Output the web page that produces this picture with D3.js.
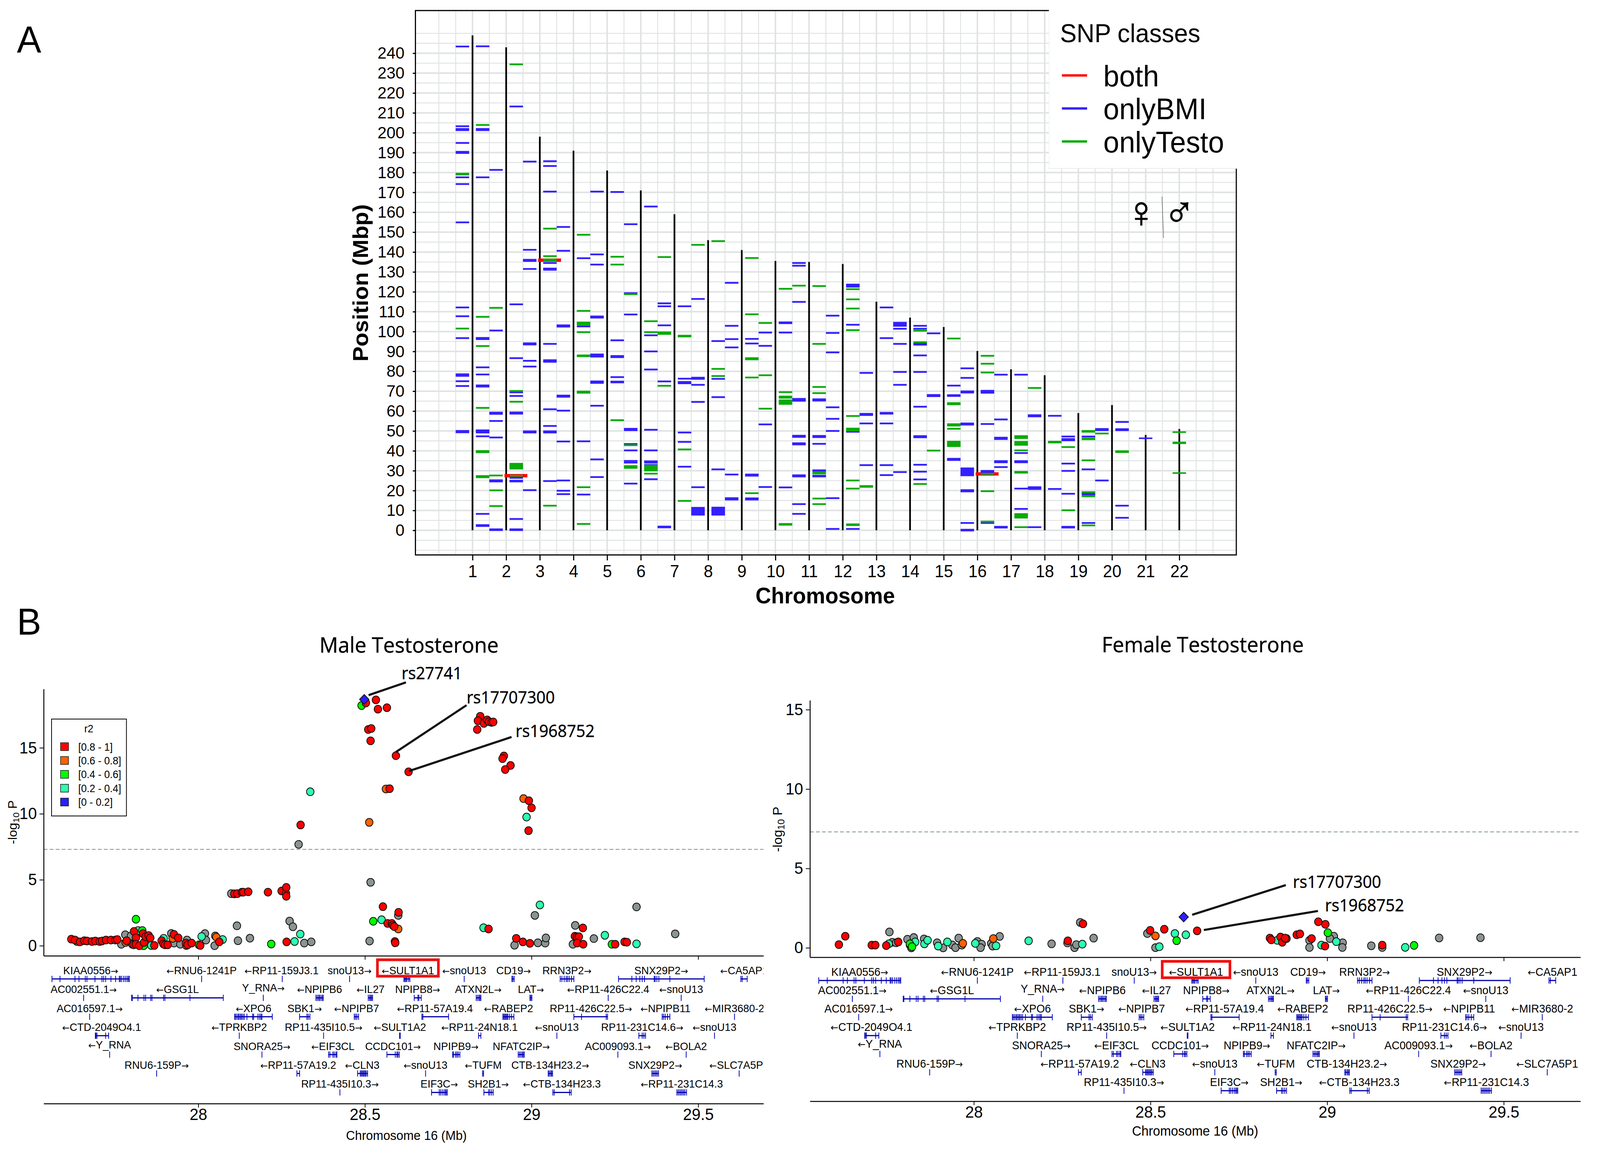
<!DOCTYPE html>
<html><head><meta charset="utf-8">
<script src="https://d3js.org/d3.v7.min.js"></script>
<style>
html,body{margin:0;padding:0;background:#fff;overflow:hidden}
svg{display:block;width:100vw;height:100vh}
text{font-family:"Liberation Sans",Arial,sans-serif;fill:#000}
.myriad{font-family:"Open Sans",sans-serif;stroke:#000;stroke-width:0.6}
</style></head><body><svg id="chart" viewBox="0 0 4252 2953" preserveAspectRatio="none"></svg>
<script>
/* ---------- Panel A data (Mbp), index 0 = chromosome 1 ---------- */
const chromosomes = d3.range(1,23);
const chrLength = [249,243,198,191,181,171,159,146,141,135.5,135,134,115,107,102.3,90.2,81,78,59,63,48,51];
const yTicksA = d3.range(0,250,10);
const bmiFemale = [
 [243.4,203.3,201.9,201.3,194.9,190.4,189.8,177.6,174.2,154.9,112.1,107.7,96.7,78.5,77.7,75,72.6,50,49.3],
 [181.3,100.5,59.2,58.6,55,46.7,25.2,24.6,0.5,0.1],
 [185.5,141.1,136.1,135.5,131.5,94.1,93.5,85.3,82.4,49.8,49.2,20.2],
 [152.6,140.6,103.1,102.5,67.8,67.2,60.2,44.7,25.1,19.9,18.2],
 [170.4,138.8,133.7,107.6,107,88.5,88,87.4,74.9,74.2,62.7,35.7,26.8],
 [154,119.3,108.6,51.1,50.4,43.4,40.2,34.9,34.1,23.5],
 [114.2,112.7,103.1,74.9,1.9,1.5],
 [116.4,76.8,76.2,73.2,64.6,21.7,11.3,10.7,10.1,9.5,8.9,8.3,7.9],
 [124.5,102.9,96.2,92,28.1,16.2,15.5],
 [99.5,92.8,53.3,21.8],
 [134.5,133.1,114.9,66.1,65.7,65.2,47.6,47,43.8,43.2,27.7,27.1,13.2,8.3],
 [108,99.3,89.5,61.9,56.1,50,16.2,0.7],
 [79.2,58.6,58,53.8,32.8],
 [104.4,103.9,103.4,102.9,101.4,93.8,79.7,73.2,29.3],
 [99.1,68.1,67.5],
 [81.5,76.7,69.9,69.3,53.8,53.2,31.2,30.6,30,29.4,28.8,28.2,27.7,20.2,19.6,3.7,0.3,-0.1],
 [78.3,55.8,46.6,45.9,34.8,34.2,31.8,1.8,1.4],
 [57.9,57.3,21.7,20.8,1.6],
 [47.2,45.9,45.3,33.6,29.9,18.4,1.8,1.4],
 [51,50.4,25.1],[],[]];
const bmiMale = [
 [243.5,201.9,201.3,177.6,96.8,96.2,82,78.4,72.9,72.3,50.3,49.8,49.2,47.3,8.3,2.6,2.2],
 [213.2,113.7,86.6,69.4,67.6,59.3,58.7,26.4,25,24.6,5.7,0.5,0.1],
 [185.7,183.3,170.4,134.5,131.7,131.1,93.8,85.6,84.8,60.9,52.5,49.8,49.2,24.8],
 [136.9,102.6,44.8,18],
 [170.2,95.6,87.7,87.1,77.1,74.8,74.4],
 [162.9,98.1,90,80.9,50.6,40.2,34.7,34.1,32.9,25.7],
 [112.7,76.3,74.6,74,49.2,44.5,32],
 [95.2,76.2,67,30.7,11.4,10.8,10.2,9.6,9,8.4,7.9],
 [96.3,94,28.1,27.5,16.1,15.5],
 [104.6,104.2,99.5,21.6],
 [65.9,65.3,47.5,46.9,43.5,30.2,29.8,27.5,27.1],
 [123.6,123,122.6,103.4,49.6,0.7],
 [112.1,96.7,59.1,58.7,53.8,32.8,27.8],
 [102.9,101.4,94,93.4,88,79.7,62.2,47.4,46.8,33,29.5,25.6],
 [72.8,68,67.6,36,35.4],
 [70.2,69.6,69.2,53.5,29.9,29.3,3.7],
 [78.3,38.9,34.8,34.2,21,10.8],
 [57.6,20.8],
 [47.2,30.7,18.6,18,3.7],
 [54.5,50.9,50.4,12.4,6.3],[],[]];
const testoFemale = [
 [179.4,179,101.5],[111.9,27.6,20.1,12.2],[],[],[],[118.8,42.8,32.3,31.4],[137.5,99.6,99.2,98.8,72.7],
 [143.6],[],[104.3,78,61.2],[123.1],[],[22.3,21.9],[],[40.1],[],[],[71.6],[41.9,10.1],[48.7],[],[]];
const testoMale = [
 [203.9,107.4,92.7,61.6,39.9,39.3,27.3,26.7],
 [234.4,70.1,64.7,33.5,32.9,32.3,31.7,31.1,27.5],
 [151.8,137.9,136.2,135.6,12.4],
 [148.7,110.4,104.5,104,103.5,99.7,88,87.6,69.8,69.2,21.7,3.2],
 [137.6,133.7,55.4],
 [105.2,99.7,32.5,31.9,31.3,30.7,30.1,28.5],
 [97.9,97.5,40.7,14.8],
 [145.5,81.2,77.6],
 [137,108.7,86.6,86,76.9,18.7],
 [121.5,69.5,67.3,66.7,65.4,64.8,64.2,63.6,3.2,2.8],
 [122.9,93.8,72.1,69,29.2,28.6,16,13.2],
 [121.3,116.2,111.6,100.7,57.5,51.2,50.6,50.2,25.1,21,3,2.6],
 [],
 [100.8,100.4,94.6,23.3],
 [96.5,64,63.4,53.4,52.7,51.1,44.6,44,43.4,42.8,42.4],
 [87.8,83.8,79.4,28.4,19.7,4.4],
 [47.4,46.9,46.4,44.5,44,43.5,43,40.2,29.4,29,8.2,7.6,7,6.4,1.6],
 [44.6,44.2],
 [50,49.6,46.2,45.8,35.2,19.2,17.1,2.5],
 [39.8,39.4],[],[]];
const bmiCentre = [[21,46.3]];
const testoCentre = [[22,49.4],[22,44.2],[22,43.8],[22,28.8]];
const bothClass = [[2,27.5],[3,135.9],[16,28.4]];
const snpClasses = ["both","onlyBMI","onlyTesto"];
const snpColours = ["#ff0000","#3320ff","#0aaa0a"];

/* ---------- Panel B data: [position Mb, -log10 P] ---------- */
const maleGrey = [[27.636,.32],[27.769,.11],[27.781,.83],[27.798,.74],[27.802,.11],[27.84,.29],[27.851,.47],[27.919,.93],[27.927,.2],[27.946,.11],[27.966,.43],[28.02,.92],[28.023,.43],[28.049,0],[28.051,.74],[28.099,3.95],[28.116,1.51],[28.119,.38],[28.155,.57],[28.274,1.87],[28.284,1.44],[28.318,.2],[28.339,.29],[28.301,7.68],[28.517,4.81],[28.514,.36],[28.6,2.3],[28.949,.04],[29.019,.22],[29.041,.2],[29.043,.59],[29.01,2.3],[29.131,1.54],[29.124,.11],[29.187,.54],[29.315,2.94],[29.431,.9]];
const maleCyan = [[27.819,1.15],[27.859,.02],[27.896,.56],[28.01,.7],[28.073,.47],[28.289,.32],[28.306,.88],[28.336,11.67],[28.55,1.97],[28.856,1.36],[28.985,9.75],[29.025,3.09],[29.22,.79],[29.315,.14]];
const maleGreen = [[27.813,2.01],[27.836,0],[27.832,1.15],[28.002,.07],[28.219,.13],[28.49,18.2],[28.525,1.85],[29.241,.11]];
const maleOrange = [[27.782,.25],[27.923,.56],[27.964,.02],[28.054,.65],[28.513,9.35],[28.563,11.88],[28.976,11.15],[28.6,1.27]];
const maleRed = [[27.619,.5],[27.63,.43],[27.645,.29],[27.658,.38],[27.666,.36],[27.681,.32],[27.691,.36],[27.704,.32],[27.711,.36],[27.723,.43],[27.738,.43],[27.751,.43],[27.757,.47],[27.785,.38],[27.807,1.08],[27.813,.61],[27.806,.07],[27.813,.11],[27.823,0],[27.834,.92],[27.837,.25],[27.842,.68],[27.851,.77],[27.856,.59],[27.868,.02],[27.89,.38],[27.895,.14],[27.9,.07],[27.908,.07],[27.927,.86],[27.94,.59],[27.963,.2],[27.968,.07],[27.98,.2],[28.006,.02],[28.063,.29],[28.108,3.93],[28.117,3.95],[28.131,4.06],[28.135,4.06],[28.15,4.09],[28.209,4.06],[28.25,4.15],[28.263,3.97],[28.264,4.42],[28.264,3.75],[28.265,.29],[28.307,9.15],[28.503,18.4],[28.533,18.63],[28.539,17.93],[28.566,18.04],[28.51,16.39],[28.519,16.46],[28.517,15.53],[28.554,2.96],[28.568,1.69],[28.581,1.69],[28.584,1.54],[28.588,1.45],[28.59,.32],[28.593,14.4],[28.631,13.18],[28.574,11.9],[28.846,17.39],[28.839,17.05],[28.857,16.85],[28.867,17.11],[28.872,16.98],[28.88,16.93],[28.885,16.96],[28.837,16.39],[28.917,14.38],[28.913,14.18],[28.937,13.66],[28.921,13.35],[28.992,10.99],[29,10.45],[28.991,8.72],[28.601,2.53],[28.591,.22],[28.871,1.27],[28.954,.56],[28.974,.29],[28.995,.18],[29.154,1.35],[29.13,.72],[29.136,.68],[29.142,.68],[29.137,.2],[29.155,.11],[29.251,.11],[29.279,.29],[29.286,.27]];
const maleLead = [[28.498,18.67]];
const femaleGrey = [[27.761,1],[27.769,.35],[27.78,.32],[27.812,.54],[27.83,.65],[27.819,.18],[27.823,0],[27.859,.56],[27.896,.32],[27.913,0],[27.957,.61],[27.939,.18],[27.948,.01],[27.966,.17],[28.01,.4],[28.022,.23],[28.019,.01],[28.049,.28],[28.053,.11],[28.073,.72],[28.22,.25],[28.265,.31],[28.285,.01],[28.29,.2],[28.301,1.6],[28.339,.61],[28.491,.9],[28.514,.01],[28.95,.47],[28.95,.02],[29.019,.73],[29.008,.58],[29.044,.32],[29.043,.02],[29.125,.13],[29.156,.02],[29.317,.62],[29.434,.64]];
const femaleCyan = [[27.759,.25],[27.834,.37],[27.86,.25],[27.869,.48],[27.899,.11],[27.925,.37],[28.004,.28],[28.063,.13],[28.155,.44],[28.307,.23],[28.525,.07],[28.569,.9],[28.6,.82],[28.859,.47],[28.984,.17],[29.026,.39],[29.221,.03]];
const femaleGreen = [[27.819,.25],[27.825,.07],[28.574,.45],[29.002,.95],[29.246,.15]];
const femaleOrange = [[27.969,.28],[28.055,.58],[28.514,.75]];
const femaleRed = [[27.636,.73],[27.618,.2],[27.711,.17],[27.721,.17],[27.752,.14],[27.786,.37],[28.266,.44],[28.309,1.51],[28.499,1.1],[28.539,1.17],[28.632,1.07],[28.975,1.64],[28.995,1.48],[28.838,.61],[28.842,.5],[28.868,.68],[28.873,.35],[28.885,.58],[28.881,.61],[28.914,.82],[28.923,.88],[28.956,.58],[28.994,.11],[29.156,.17]];
const femaleLead = [[28.594,1.94]];
const r2Labels = ["[0.8 - 1]","[0.6 - 0.8]","[0.4 - 0.6]","[0.2 - 0.4]","[0 - 0.2]"];
const r2Colours = ["#ff0000","#ff6000","#00ff00","#2cffae","#2a20ff"];
const greyPoint = "#8b9493";
const maleNotes = [["rs27741",28.511,18.99,28.623,19.96,28.61,20.2],["rs17707300",28.593,14.68,28.805,18.23,28.805,18.36],["rs1968752",28.632,13.24,28.94,15.82,28.952,15.82]];
const femaleNotes = [["rs17707300",28.618,2.08,28.883,3.95,28.903,3.77],["rs1968752",28.651,1.12,28.974,2.32,28.994,2.3]];
const mbTicks = [28,28.5,29,29.5];
const pTicks = [0,5,10,15];
const gwasLine = 7.3;
/* gene: [label, label centre, start, end, exons] */
const geneRow1 = [["KIAA0556→",27.677,27.561,27.793,[27.561,27.585,27.63,27.642,27.661,27.666,27.69,27.711,27.716,27.722,27.738,27.752,27.763,27.766,27.77,27.776,27.781,27.786,27.79,27.793]],["←RNU6-1241P",28.01,28.01,28.01,[28.01]],["←RP11-159J3.1",28.25,28.252,28.252,[28.252]],["snoU13→",28.454,28.454,28.454,[28.454]],["←SULT1A1",28.629,28.617,28.635,[28.617,28.62,28.623,28.626,28.631,28.635]],["←snoU13",28.798,28.798,28.798,[28.798]],["CD19→",28.946,28.941,28.948,[28.941,28.944,28.948]],["RRN3P2→",29.106,29.086,29.127,[29.086,29.091,29.098,29.104,29.108,29.113,29.12,29.127]],["SNX29P2→",29.389,29.261,29.518,[29.261,29.301,29.314,29.325,29.332,29.339,29.368,29.371,29.376,29.382,29.415,29.518]],["←CA5AP1",29.638,29.628,29.647,[29.628,29.632,29.647]]];
const geneRow2 = [["AC002551.1→",27.656,27.656,27.656,[27.656]],["←GSG1L",27.938,27.8,28.075,[27.8,27.802,27.819,27.837,27.842,27.857,27.861,27.896,27.9,27.975,28.075]],["Y_RNA→",28.195,28.195,28.195,[28.195]],["←NPIPB6",28.364,28.353,28.375,[28.353,28.357,28.361,28.364,28.368,28.372,28.375]],["←IL27",28.517,28.51,28.523,[28.51,28.514,28.517,28.52,28.523]],["NPIPB8→",28.658,28.648,28.669,[28.648,28.659,28.662,28.669]],["ATXN2L→",28.84,28.834,28.848,[28.834,28.838,28.842,28.845,28.848]],["LAT→",28.998,28.995,29.001,[28.995,28.998,29.001]],["←RP11-426C22.4",29.23,29.23,29.23,[29.23]],["←snoU13",29.449,29.449,29.449,[29.449]]];
const geneRow3 = [["AC016597.1→",27.674,27.674,27.674,[27.674]],["←XPO6",28.166,28.109,28.222,[28.109,28.112,28.116,28.12,28.123,28.127,28.13,28.134,28.138,28.146,28.163,28.166,28.179,28.184,28.188,28.191,28.222]],["SBK1→",28.319,28.304,28.335,[28.304,28.326,28.33,28.335]],["←NPIPB7",28.475,28.468,28.481,[28.468,28.472,28.476,28.481]],["←RP11-57A19.4",28.71,28.671,28.751,[28.671,28.674,28.751]],["←RABEP2",28.931,28.914,28.947,[28.914,28.917,28.92,28.923,28.926,28.929,28.934,28.94,28.947]],["RP11-426C22.5→",29.178,29.127,29.228,[29.127,29.15,29.224,29.228]],["←NPIPB11",29.402,29.392,29.415,[29.392,29.396,29.401,29.408,29.415]],["←MIR3680-2",29.609,29.609,29.609,[29.609]]];
const geneRow4 = [["←CTD-2049O4.1",27.71,27.691,27.731,[27.691,27.693,27.696,27.722,27.731]],["←TPRKBP2",28.123,28.123,28.123,[28.123]],["RP11-435I10.5→",28.376,28.376,28.376,[28.376]],["←SULT1A2",28.605,28.604,28.606,[28.604,28.606]],["←RP11-24N18.1",28.844,28.841,28.848,[28.841,28.848]],["←snoU13",29.076,29.076,29.076,[29.076]],["RP11-231C14.6→",29.332,29.322,29.342,[29.322,29.332,29.337,29.342]],["←snoU13",29.549,29.549,29.549,[29.549]]];
const geneRow5 = [["←Y_RNA",27.734,27.734,27.734,[27.734]],["SNORA25→",28.191,28.191,28.191,[28.191]],["←EIF3CL",28.404,28.391,28.416,[28.391,28.395,28.404,28.408,28.413,28.416]],["CCDC101→",28.584,28.566,28.603,[28.566,28.591,28.596,28.599,28.603]],["NPIPB9→",28.773,28.763,28.785,[28.763,28.766,28.772,28.776,28.78,28.785]],["NFATC2IP→",28.969,28.96,28.978,[28.96,28.964,28.968,28.972,28.975,28.978]],["AC009093.1→",29.259,29.259,29.259,[29.259]],["←BOLA2",29.464,29.464,29.464,[29.464]]];
const geneRow6 = [["RNU6-159P→",27.875,27.875,27.875,[27.875]],["←RP11-57A19.2",28.3,28.296,28.304,[28.296,28.304]],["←CLN3",28.492,28.478,28.508,[28.478,28.486,28.489,28.492,28.495,28.498,28.501,28.504,28.508]],["←snoU13",28.682,28.682,28.682,[28.682]],["←TUFM",28.855,28.853,28.856,[28.853,28.856]],["CTB-134H23.2→",29.056,29.05,29.063,[29.05,29.053,29.057,29.06,29.063]],["SNX29P2→",29.371,29.361,29.381,[29.361,29.365,29.369,29.373,29.377,29.381]],["←SLC7A5P1",29.623,29.623,29.623,[29.623]]];
const geneRow7 = [["RP11-435I10.3→",28.425,28.425,28.425,[28.425]],["EIF3C→",28.723,28.7,28.747,[28.7,28.723,28.727,28.732,28.737,28.741,28.744,28.747]],["SH2B1→",28.87,28.857,28.885,[28.857,28.871,28.875,28.88,28.885]],["←CTB-134H23.3",29.091,29.064,29.119,[29.064,29.068,29.114,29.119]],["←RP11-231C14.3",29.451,29.436,29.465,[29.436,29.44,29.444,29.448,29.452,29.456,29.46,29.465]]];
const geneRows = [geneRow1,geneRow2,geneRow3,geneRow4,geneRow5,geneRow6,geneRow7];

/* ---------- drawing ---------- */
const svg = d3.select("#chart");
const gridCol = "#e0e3e3";

function panelLetter(t,x,y){ svg.append("text").attr("x",x).attr("y",y).attr("font-size",97).text(t); }
panelLetter("A",45,134);
panelLetter("B",45,1624);

/* Panel A */
(function(){
  const L=1104,R=3285.5,T=27,B=1420;
  const x=d3.scaleLinear().domain([1,22]).range([1255.7,3134]);
  const y=d3.scaleLinear().domain([0,240]).range([1357.1,136.2]);
  const g=svg.append("g");
  const minorX=d3.range(0,23.5,0.5).filter(v=>!(v>=1&&v<=22&&Number.isInteger(v)));
  const minorY=d3.range(-10,255,5).filter(v=>!(v>=0&&v<=240&&v%10===0));
  g.selectAll(".vm").data(minorX).join("line").attr("x1",x).attr("x2",x).attr("y1",T).attr("y2",B).attr("stroke",gridCol).attr("stroke-width",2.4);
  g.selectAll(".hm").data(minorY).join("line").attr("y1",y).attr("y2",y).attr("x1",L).attr("x2",R).attr("stroke",gridCol).attr("stroke-width",2.4);
  g.selectAll(".vM").data(chromosomes).join("line").attr("x1",x).attr("x2",x).attr("y1",T).attr("y2",B).attr("stroke",gridCol).attr("stroke-width",4);
  g.selectAll(".hM").data(yTicksA).join("line").attr("y1",y).attr("y2",y).attr("x1",L).attr("x2",R).attr("stroke",gridCol).attr("stroke-width",4);
  g.selectAll(".chr").data(chromosomes).join("line").attr("x1",x).attr("x2",x)
    .attr("y1",y(0)).attr("y2",c=>y(chrLength[c-1])).attr("stroke","#000").attr("stroke-width",4.5);
  function seg(rows,a,b,col,w){
    const d=rows.flatMap((vals,i)=>vals.map(v=>[i+1,v]));
    g.append("g").selectAll("line").data(d).join("line")
      .attr("x1",p=>x(p[0]+a)).attr("x2",p=>x(p[0]+b)).attr("y1",p=>y(p[1])).attr("y2",p=>y(p[1]))
      .attr("stroke",col).attr("stroke-width",w);
  }
  function segC(d,a,b,col,w){
    g.append("g").selectAll("line").data(d).join("line")
      .attr("x1",p=>x(p[0]+a)).attr("x2",p=>x(p[0]+b)).attr("y1",p=>y(p[1])).attr("y2",p=>y(p[1]))
      .attr("stroke",col).attr("stroke-width",w);
  }
  segC(bothClass,-0.05,0.63,snpColours[0],8.5);
  seg(bmiFemale,-0.5,-0.1,snpColours[1],4.5);
  seg(bmiMale,0.1,0.5,snpColours[1],4.5);
  segC(bmiCentre,-0.2,0.2,snpColours[1],4);
  seg(testoFemale,-0.5,-0.1,snpColours[2],4.5);
  seg(testoMale,0.1,0.5,snpColours[2],4.5);
  segC(testoCentre,-0.2,0.2,snpColours[2],4);
  g.append("rect").attr("x",L).attr("y",T).attr("width",R-L).attr("height",B-T).attr("fill","none").attr("stroke","#000").attr("stroke-width",3);
  const ax=g.append("g").attr("transform",`translate(0,${B})`).call(d3.axisBottom(x).tickValues(chromosomes).tickFormat(d3.format("d")).tickSize(14).tickPadding(12).tickSizeOuter(0));
  ax.select(".domain").remove();
  ax.selectAll("line").attr("stroke","#000").attr("stroke-width",3);
  ax.selectAll("text").attr("font-size",44).attr("font-family","Liberation Sans").attr("fill","#000");
  const ay=g.append("g").attr("transform",`translate(${L},0)`).call(d3.axisLeft(y).tickValues(yTicksA).tickFormat(d3.format("d")).tickSize(7).tickPadding(22).tickSizeOuter(0));
  ay.select(".domain").remove();
  ay.selectAll("line").attr("stroke","#000").attr("stroke-width",3);
  ay.selectAll("text").attr("font-size",43).attr("font-family","Liberation Sans").attr("fill","#000");
  svg.append("text").attr("x",2193).attr("y",1544).attr("text-anchor","middle").attr("font-size",57.5).attr("font-weight","bold").text("Chromosome");
  svg.append("text").attr("transform","translate(978,724) rotate(-90)").attr("text-anchor","middle").attr("font-size",58).attr("font-weight","bold").text("Position (Mbp)");
  /* legend */
  const lg=svg.append("g");
  lg.append("rect").attr("x",2788).attr("y",26).attr("width",499).attr("height",405).attr("fill","#fff").attr("stroke","#e6e6e6").attr("stroke-width",1.5);
  lg.append("rect").attr("x",2788).attr("y",24).attr("width",501).attr("height",406).attr("fill","#fff");
  lg.append("text").attr("x",2817).attr("y",108).attr("font-size",66).text("SNP classes");
  const ly=d3.scalePoint().domain(snpClasses).range([193,362]);
  snpClasses.forEach((c,i)=>{
    lg.append("line").attr("x1",2822).attr("x2",2889).attr("y1",ly(c)).attr("y2",ly(c)).attr("stroke",snpColours[i]).attr("stroke-width",6);
    lg.append("text").attr("x",2932).attr("y",ly(c)+28).attr("font-size",76).text(c);
  });
  ["♀","♂"].forEach((s,i)=>lg.append("text").attr("x",i?3134:3033).attr("y",581).attr("text-anchor","middle")
    .attr("font-family","DejaVu Sans").attr("font-size",112).attr("stroke","#000").attr("stroke-width",1.5).text(s));
  lg.append("line").attr("x1",3088).attr("y1",503).attr("x2",3092).attr("y2",609).attr("stroke","#444").attr("stroke-width",1.2);
})();

/* Panel B */
let clipId=0;
function geneText(sel,label){
  const parts=label.match(/^(←?)(.*?)(→?)$/);
  if(parts[1]) sel.append("tspan").attr("font-family","DejaVu Sans").attr("font-size","0.85em").text(parts[1]);
  sel.append("tspan").text(parts[2]);
  if(parts[3]) sel.append("tspan").attr("font-family","DejaVu Sans").attr("font-size","0.85em").text(parts[3]);
}
function locus(o){
  const x=d3.scaleLinear().domain(o.xDom).range(o.xRange);
  const y=d3.scaleLinear().domain(o.yDom).range(o.yRange);
  const g=svg.append("g");
  svg.append("text").attr("class","myriad").attr("x",o.titleX).attr("y",o.titleY).attr("font-size",o.titleSize).text(o.title);
  g.append("line").attr("x1",o.xRange[0]).attr("x2",o.xRange[1]).attr("y1",y(gwasLine)).attr("y2",y(gwasLine))
    .attr("stroke","#7f9090").attr("stroke-width",2).attr("stroke-dasharray","10 6");
  const ay=g.append("g").attr("transform",`translate(${o.xRange[0]},0)`).call(d3.axisLeft(y).tickValues(pTicks).tickFormat(d3.format("d")).tickSize(11).tickPadding(7).tickSizeOuter(0));
  ay.select(".domain").attr("stroke","#000").attr("stroke-width",2.5);
  ay.selectAll("line").attr("stroke","#000").attr("stroke-width",2);
  ay.selectAll("text").attr("font-size",o.tickSize).attr("font-family","Liberation Sans").attr("fill","#000");
  const ax=g.append("g").attr("transform",`translate(0,${o.yRange[0]})`).call(d3.axisBottom(x).tickValues(mbTicks).tickFormat("").tickSize(10).tickSizeOuter(0));
  ax.select(".domain").attr("stroke","#000").attr("stroke-width",2.5);
  ax.selectAll("line").attr("stroke","#000").attr("stroke-width",2);
  /* -log10 P title */
  const yt=svg.append("text").attr("transform",`translate(${o.yTitleX},${o.yTitleY}) rotate(-90)`).attr("text-anchor","middle").attr("font-size",o.yTitleSize);
  yt.append("tspan").text("-log");
  yt.append("tspan").attr("font-size",o.yTitleSize*0.72).attr("dy",6).text("10");
  yt.append("tspan").attr("dy",-6).text(" P");
  /* points */
  const drawPts=(d,col)=>g.append("g").selectAll("circle").data(d).join("circle")
    .attr("cx",p=>x(p[0])).attr("cy",p=>y(p[1])).attr("r",o.r).attr("fill",col).attr("stroke","#111").attr("stroke-width",2);
  drawPts(o.grey,greyPoint); drawPts(o.cyan,r2Colours[3]); drawPts(o.green,r2Colours[2]); drawPts(o.orange,r2Colours[1]); drawPts(o.red,r2Colours[0]);
  g.append("g").selectAll("path").data(o.lead).join("path")
    .attr("d",d3.symbol(d3.symbolSquare,313))
    .attr("transform",p=>`translate(${x(p[0])},${y(p[1])}) rotate(45)`).attr("fill",r2Colours[4]).attr("stroke","#111").attr("stroke-width",2);
  /* annotations */
  o.notes.forEach(n=>{
    g.append("line").attr("x1",x(n[1])).attr("y1",y(n[2])).attr("x2",x(n[3])).attr("y2",y(n[4])).attr("stroke","#111").attr("stroke-width",5.5);
    g.append("text").attr("class","myriad").attr("x",x(n[5])).attr("y",y(n[6])).attr("font-size",43).text(n[0]);
  });
  /* genes */
  const id="clip"+(clipId++);
  svg.append("clipPath").attr("id",id).append("rect").attr("x",o.xRange[0]-40).attr("y",o.yRange[0]).attr("width",o.clipRight-o.xRange[0]+40).attr("height",o.axis2-o.yRange[0]);
  const tr=svg.append("g").attr("clip-path",`url(#${id})`);
  geneRows.forEach((row,i)=>{
    const by=o.row0+i*o.rowStep;
    row.forEach(ge=>{
      const yUp=ge[0].includes("Y_RNA")?-4:0;
      const t=tr.append("text").attr("x",x(ge[1])).attr("y",by+yUp).attr("text-anchor","middle").attr("font-size",o.geneSize);
      geneText(t,ge[0]);
      if(ge[3]>ge[2]) tr.append("line").attr("x1",x(ge[2])).attr("x2",x(ge[3])).attr("y1",by+12).attr("y2",by+12).attr("stroke","#0000a8").attr("stroke-width",3);
      tr.append("g").selectAll("line").data(ge[4]).join("line").attr("x1",v=>x(v)).attr("x2",v=>x(v)).attr("y1",by+4).attr("y2",by+20)
        .attr("stroke","#0000b8").attr("stroke-width",2);
      if(ge[0]==="←SULT1A1"){
        const c=x(ge[1]);
        svg.append("rect").attr("x",c-o.boxW/2).attr("y",by-37).attr("width",o.boxW).attr("height",42).attr("fill","none").attr("stroke","#f01010").attr("stroke-width",7);
      }
    });
  });
  const ax2=g.append("g").attr("transform",`translate(0,${o.axis2})`).call(d3.axisBottom(x).tickValues(mbTicks).tickFormat(v=>String(v)).tickSize(10).tickPadding(2).tickSizeOuter(0));
  ax2.select(".domain").attr("stroke","#000").attr("stroke-width",2.5);
  ax2.selectAll("line").attr("stroke","#000").attr("stroke-width",2);
  ax2.selectAll("text").attr("font-size",o.tickSize).attr("font-family","Liberation Sans").attr("fill","#000");
  svg.append("text").attr("x",o.xlabX).attr("y",o.xlabY).attr("text-anchor","middle").attr("font-size",o.xlabSize).text("Chromosome 16 (Mb)");
  return {x,y};
}
locus({title:"Male Testosterone",titleX:849,titleY:1670,titleSize:55,
  xDom:[27.536,29.696],xRange:[116,2029],yDom:[-0.76,19.46],yRange:[2445.7,1763],clipRight:2029,
  tickSize:42,yTitleX:45,yTitleY:2104,yTitleSize:33,r:10,
  grey:maleGrey,cyan:maleCyan,green:maleGreen,orange:maleOrange,red:maleRed,lead:maleLead,notes:maleNotes,
  row0:2493,rowStep:48.4,geneSize:28,boxW:162,axis2:2824,xlabX:1080,xlabY:2917,xlabSize:33});
locus({title:"Female Testosterone",titleX:2928,titleY:1669,titleSize:55,
  xDom:[27.536,29.717],xRange:[2152.4,4200],yDom:[-0.593,15.59],yRange:[2449.5,1792],clipRight:4252,
  tickSize:42,yTitleX:2078,yTitleY:2122,yTitleSize:34,r:10,
  grey:femaleGrey,cyan:femaleCyan,green:femaleGreen,orange:femaleOrange,red:femaleRed,lead:femaleLead,notes:femaleNotes,
  row0:2497,rowStep:47,geneSize:29,boxW:180,axis2:2818,xlabX:3176,xlabY:2906,xlabSize:34.5});
/* r2 legend */
(function(){
  const lg=svg.append("g");
  lg.append("rect").attr("x",137).attr("y",1840).attr("width",199).attr("height",248).attr("fill","#fff").attr("stroke","#000").attr("stroke-width",2);
  lg.append("text").attr("x",236).attr("y",1874).attr("text-anchor","middle").attr("font-size",27).text("r2");
  const ly=d3.scalePoint().domain(r2Labels).range([1910.6,2052.4]);
  r2Labels.forEach((l,i)=>{
    lg.append("rect").attr("x",161).attr("y",ly(l)-10).attr("width",21).attr("height",20).attr("fill",r2Colours[i]).attr("stroke","#111").attr("stroke-width",1.5);
    lg.append("text").attr("x",208).attr("y",ly(l)+10).attr("font-size",27).text(l);
  });
})();
</script></body></html>
